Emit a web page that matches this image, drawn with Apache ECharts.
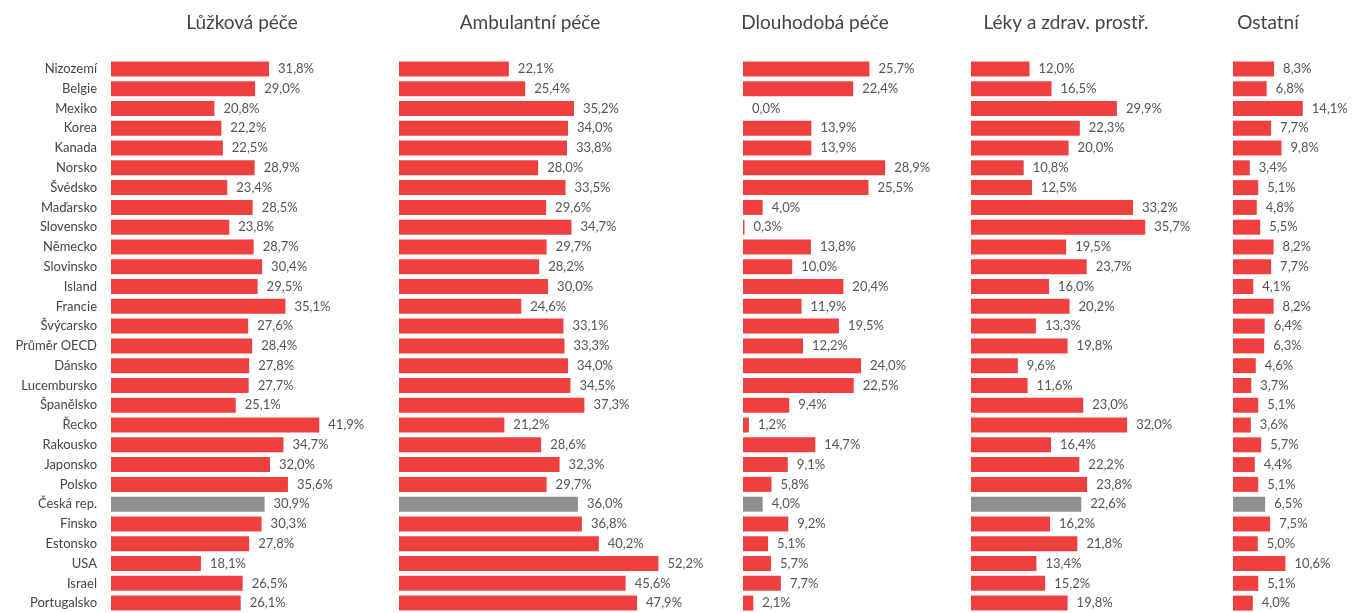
<!DOCTYPE html>
<html>
<head>
<meta charset="utf-8">
<script src="https://cdn.jsdelivr.net/npm/echarts@6/dist/echarts.min.js"></script>
<style>
html,body{margin:0;padding:0;background:#fff;}
#chart{width:1352px;height:613px;}
</style>
</head>
<body>
<div id="chart"></div>
<script>
const categories = ["Nizozemí","Belgie","Mexiko","Korea","Kanada","Norsko","Švédsko","Maďarsko","Slovensko","Německo","Slovinsko","Island","Francie","Švýcarsko","Průměr OECD","Dánsko","Lucembursko","Španělsko","Řecko","Rakousko","Japonsko","Polsko","Česká rep.","Finsko","Estonsko","USA","Israel","Portugalsko"];
const highlightCategory = "Česká rep.";
const panelTitles = ["Lůžková péče","Ambulantní péče","Dlouhodobá péče","Léky a zdrav. prostř.","Ostatní"];
const luzkova = [31.8,29.0,20.8,22.2,22.5,28.9,23.4,28.5,23.8,28.7,30.4,29.5,35.1,27.6,28.4,27.8,27.7,25.1,41.9,34.7,32.0,35.6,30.9,30.3,27.8,18.1,26.5,26.1];
const ambulantni = [22.1,25.4,35.2,34.0,33.8,28.0,33.5,29.6,34.7,29.7,28.2,30.0,24.6,33.1,33.3,34.0,34.5,37.3,21.2,28.6,32.3,29.7,36.0,36.8,40.2,52.2,45.6,47.9];
const dlouhodoba = [25.7,22.4,0.0,13.9,13.9,28.9,25.5,4.0,0.3,13.8,10.0,20.4,11.9,19.5,12.2,24.0,22.5,9.4,1.2,14.7,9.1,5.8,4.0,9.2,5.1,5.7,7.7,2.1];
const leky = [12.0,16.5,29.9,22.3,20.0,10.8,12.5,33.2,35.7,19.5,23.7,16.0,20.2,13.3,19.8,9.6,11.6,23.0,32.0,16.4,22.2,23.8,22.6,16.2,21.8,13.4,15.2,19.8];
const ostatni = [8.3,6.8,14.1,7.7,9.8,3.4,5.1,4.8,5.5,8.2,7.7,4.1,8.2,6.4,6.3,4.6,3.7,5.1,3.6,5.7,4.4,5.1,6.5,7.5,5.0,10.6,5.1,4.0];

const panelData = [luzkova, ambulantni, dlouhodoba, leky, ostatni];
// layout (pixels)
const panelLeft = [111, 399, 743, 971, 1233];
const pxPerUnit = [4.97, 4.97, 4.92, 4.88, 4.95];
const panelMax = [50, 60, 40, 45, 22];
const titleCenter = [242, 530, 815, 1066, 1268];

const RED = '#ef4040';
const GRAY = '#8f8f8f';
const FONT = 'Lato, "Open Sans", sans-serif';

const grids = [], xAxes = [], yAxes = [], series = [], titles = [];
panelData.forEach((vals, i) => {
  grids.push({left: panelLeft[i], top: 59, width: panelMax[i]*pxPerUnit[i], height: 555, containLabel: false});
  xAxes.push({gridIndex: i, type: 'value', min: 0, max: panelMax[i], show: false});
  yAxes.push({
    gridIndex: i, type: 'category', data: categories, inverse: true,
    axisLine: {show: false}, axisTick: {show: false},
    axisLabel: {show: i === 0, margin: 14, color: '#454545', fontSize: 13, fontFamily: FONT}
  });
  series.push({
    type: 'bar', xAxisIndex: i, yAxisIndex: i, barWidth: 15,
    data: vals.map((v, k) => ({value: v, itemStyle: {color: categories[k] === highlightCategory ? GRAY : RED}})),
    label: {
      show: true, position: 'right', distance: 9, color: '#555', fontSize: 13, fontFamily: FONT,
      formatter: p => p.value.toFixed(1).replace('.', ',') + '%'
    },
    animation: false
  });
  titles.push({
    text: panelTitles[i], left: titleCenter[i], top: 13, textAlign: 'center', padding: 0,
    textStyle: {fontSize: 19, fontWeight: 'normal', color: '#444', fontFamily: FONT}
  });
});

const chart = echarts.init(document.getElementById('chart'));
chart.setOption({
  backgroundColor: '#fff',
  animation: false,
  title: titles,
  grid: grids,
  xAxis: xAxes,
  yAxis: yAxes,
  series: series
});
</script>
</body>
</html>
